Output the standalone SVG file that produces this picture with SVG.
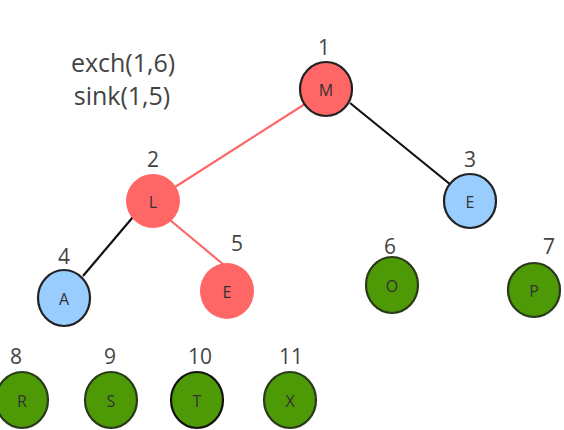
<svg xmlns="http://www.w3.org/2000/svg" width="564" height="430" viewBox="0 0 564 430">
<style>
.n{stroke:#222;stroke-width:2.2}
.red{fill:#ff6666}
.blue{fill:#99ccff}
.green{fill:#4e9a06;stroke:#2a3a1a}
.lbl{font-family:"Open Sans","DejaVu Sans",sans-serif;font-size:16px;fill:#333;text-anchor:middle}
.idx{font-family:"Open Sans","DejaVu Sans",sans-serif;font-size:21px;fill:#444;text-anchor:middle}
.cap{font-family:"Open Sans","DejaVu Sans",sans-serif;font-size:25px;fill:#444;text-anchor:middle}
.e{stroke-width:2.2;fill:none}
</style>
<rect width="564" height="430" fill="#fff"/>
<g id="caption">
<text class="cap" x="123" y="72">exch(1,6)</text>
<text class="cap" x="122" y="105">sink(1,5)</text>
</g>
<g id="connectors">
<line class="e" x1="305" y1="104" x2="175" y2="187" stroke="#ff6666"/>
<line class="e" x1="350" y1="103" x2="451" y2="185" stroke="#111"/>
<line class="e" x1="133" y1="217" x2="83" y2="276" stroke="#111"/>
<line class="e" x1="170" y1="220" x2="224" y2="265" stroke="#ff6666"/>
</g>
<g id="n1"><ellipse class="n red" cx="326" cy="89" rx="26" ry="27"/><text class="lbl" x="326" y="96">M</text><text class="idx" x="324" y="55">1</text></g>
<g id="n2"><ellipse class="red" cx="153" cy="201" rx="27" ry="27"/><text class="lbl" x="153" y="208">L</text><text class="idx" x="153" y="167">2</text></g>
<g id="n3"><ellipse class="n blue" cx="470" cy="201" rx="26" ry="27"/><text class="lbl" x="470" y="208">E</text><text class="idx" x="470" y="167">3</text></g>
<g id="n4"><ellipse class="n blue" cx="64" cy="298" rx="26" ry="28"/><text class="lbl" x="64" y="305">A</text><text class="idx" x="64" y="264">4</text></g>
<g id="n5"><ellipse class="red" cx="227" cy="291" rx="27" ry="28"/><text class="lbl" x="227" y="298">E</text><text class="idx" x="237" y="251">5</text></g>
<g id="n6"><ellipse class="n green" cx="392" cy="285" rx="26" ry="28"/><text class="lbl" x="392" y="292">O</text><text class="idx" x="390" y="254">6</text></g>
<g id="n7"><ellipse class="n green" cx="534" cy="290" rx="26" ry="27"/><text class="lbl" x="534" y="297">P</text><text class="idx" x="549" y="254">7</text></g>
<g id="n8"><ellipse class="n green" cx="22" cy="400" rx="26" ry="28"/><text class="lbl" x="22" y="407">R</text><text class="idx" x="16" y="364">8</text></g>
<g id="n9"><ellipse class="n green" cx="111" cy="400" rx="26" ry="28"/><text class="lbl" x="111" y="407">S</text><text class="idx" x="110" y="364">9</text></g>
<g id="n10"><ellipse class="n green" cx="197" cy="400" rx="26" ry="28" style="stroke:#111"/><text class="lbl" x="197" y="407">T</text><text class="idx" x="200" y="364">10</text></g>
<g id="n11"><ellipse class="n green" cx="290" cy="400" rx="26" ry="28"/><text class="lbl" x="290" y="407">X</text><text class="idx" x="291" y="364">11</text></g>
</svg>
